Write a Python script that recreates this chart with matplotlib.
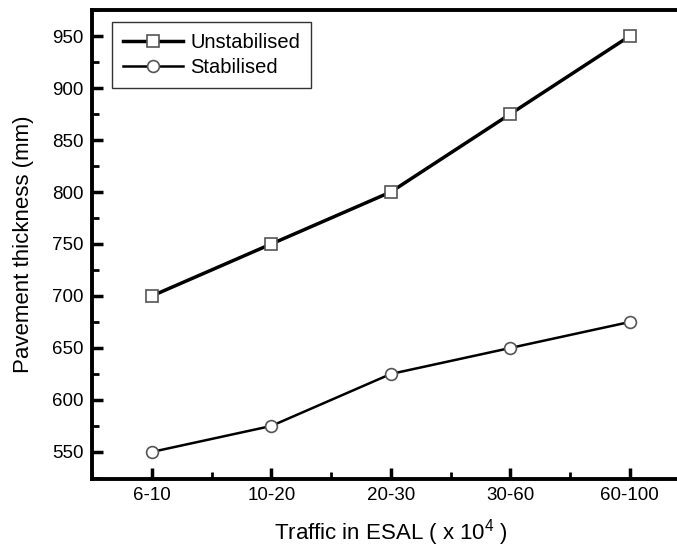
import matplotlib
matplotlib.use("Agg")
import matplotlib.pyplot as plt
from matplotlib.ticker import MultipleLocator, AutoMinorLocator

plt.rcParams['font.family'] = ['Liberation Sans', 'DejaVu Sans']
plt.rcParams['mathtext.fontset'] = 'custom'
plt.rcParams['mathtext.rm'] = 'Liberation Sans'

# Data
categories = ["6-10", "10-20", "20-30", "30-60", "60-100"]
unstabilised = [700, 750, 800, 875, 950]
stabilised = [550, 575, 625, 650, 675]

fig = plt.figure(figsize=(6.77, 5.48), dpi=100)
ax = fig.add_axes([0.1359, 0.1259, 0.8826, 0.8558])

x = list(range(len(categories)))
ax.plot(x, unstabilised, color="black", lw=2.5, marker="s", markersize=9,
        markerfacecolor="white", markeredgecolor="#555555", markeredgewidth=1.2,
        label="Unstabilised")
ax.plot(x, stabilised, color="black", lw=1.8, marker="o", markersize=8.5,
        markerfacecolor="white", markeredgecolor="#555555", markeredgewidth=1.2,
        label="Stabilised")

ax.set_xlim(-0.5, 4.5)
ax.set_ylim(524, 975)
ax.set_xticks(x)
ax.set_xticklabels(categories)
ax.xaxis.set_minor_locator(AutoMinorLocator(2))
ax.set_yticks([550, 600, 650, 700, 750, 800, 850, 900, 950])
ax.yaxis.set_minor_locator(MultipleLocator(25))

ax.tick_params(which="major", direction="in", length=8, width=2.5, labelsize=13.5, pad=6)
ax.tick_params(which="minor", direction="in", length=5, width=2.0)
ax.tick_params(axis="x", which="both", top=False)
ax.tick_params(axis="y", which="both", right=False)

for side in ["left", "bottom", "top"]:
    ax.spines[side].set_linewidth(2.8)
ax.spines["right"].set_visible(False)

ax.set_xlabel("Traffic in ESAL ( x 10$^4$ )", fontsize=16, labelpad=9)
ax.set_ylabel("Pavement thickness (mm)", fontsize=16, labelpad=13)

leg = ax.legend(loc="upper left", bbox_to_anchor=(112 / 677, 1 - 22 / 548),
                bbox_transform=fig.transFigure, fontsize=14.5, frameon=True,
                fancybox=False, edgecolor="black", handlelength=3.0,
                borderpad=0.55, labelspacing=0.3, handletextpad=0.35,
                borderaxespad=0)
leg.get_frame().set_linewidth(1.0)

fig.savefig("out.png", dpi=100)
